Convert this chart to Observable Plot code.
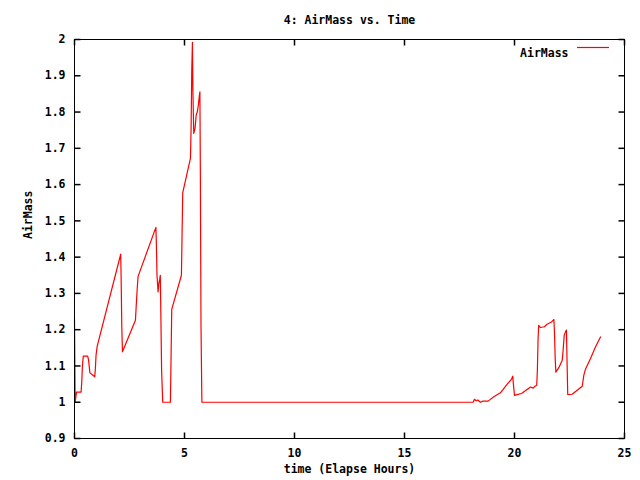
<!DOCTYPE html>
<html>
<head>
<meta charset="utf-8">
<script src="https://cdn.jsdelivr.net/npm/d3@7"></script>
<script src="https://cdn.jsdelivr.net/npm/@observablehq/plot@0.6"></script>
<style>
  html, body { margin: 0; padding: 0; background: #fff; }
</style>
</head>
<body>
<div id="chart"></div>
<script>
const titleText = "4: AirMass vs. Time";
const xLabel = "time (Elapse Hours)";
const yLabel = "AirMass";
const seriesName = "AirMass";
const xTicks = [0, 5, 10, 15, 20, 25];
const yTicks = [0.9, 1, 1.1, 1.2, 1.3, 1.4, 1.5, 1.6, 1.7, 1.8, 1.9, 2];

const time = [
  0.0, 0.02, 0.03, 0.09, 0.30, 0.33, 0.36, 0.40, 0.60, 0.64, 0.70, 0.92, 0.95, 0.98, 1.03,
  2.10, 2.12, 2.15, 2.18, 2.77, 2.80, 2.85, 2.89, 3.70, 3.72, 3.75, 3.80, 3.83, 3.87, 3.90,
  3.92, 3.96, 4.01, 4.36, 4.39, 4.42, 4.86, 4.89, 4.92, 5.27, 5.30, 5.33, 5.36, 5.38, 5.42,
  5.48, 5.53, 5.58, 5.63, 5.67, 5.70, 5.72, 5.75, 5.79,
  18.12, 18.18, 18.26, 18.33, 18.45, 18.56, 18.80, 19.06, 19.36, 19.67, 19.86, 19.92, 19.95,
  20.0, 20.12, 20.32, 20.73, 20.85, 20.93, 21.01, 21.04, 21.07, 21.10, 21.18, 21.36, 21.48,
  21.68, 21.79, 21.82, 21.85, 21.88, 22.02, 22.17, 22.21, 22.26, 22.32, 22.36, 22.39, 22.42,
  22.62, 22.85, 23.08, 23.15, 23.22, 23.45, 23.68, 23.91
];
const airmass = [
  1.229, 1.08, 1.0, 1.028, 1.028, 1.056, 1.10, 1.127, 1.127, 1.116, 1.081, 1.07, 1.094, 1.13, 1.154,
  1.408, 1.342, 1.205, 1.139, 1.226, 1.26, 1.313, 1.347, 1.482, 1.44, 1.35, 1.304, 1.325, 1.338, 1.35,
  1.263, 1.086, 1.0, 1.0, 1.127, 1.256, 1.35, 1.465, 1.578, 1.672, 1.755, 1.913, 1.992, 1.865, 1.741,
  1.755, 1.791, 1.80, 1.819, 1.842, 1.856, 1.64, 1.212, 1.0,
  1.0, 1.008, 1.004, 1.006, 1.0, 1.003, 1.003, 1.015, 1.026, 1.05, 1.063, 1.072, 1.05,
  1.019, 1.021, 1.024, 1.042, 1.039, 1.044, 1.047, 1.088, 1.171, 1.212, 1.206, 1.208, 1.215,
  1.221, 1.228, 1.189, 1.12, 1.083, 1.096, 1.116, 1.143, 1.185, 1.194, 1.199, 1.108, 1.021,
  1.022, 1.033, 1.044, 1.074, 1.09, 1.12, 1.152, 1.18
];

const data = time.map((t, i) => ({t, a: airmass[i]}));

const W = 640, H = 480, mL = 74, mR = 16, mT = 39, mB = 42;
const xDomain = [0, 25], yDomain = [0.9, 2];
const tickLen = 6;
const dxTick = tickLen / (W - mL - mR) * (xDomain[1] - xDomain[0]);
const dyTick = tickLen / (H - mT - mB) * (yDomain[1] - yDomain[0]);

// tick rows built from the tick arrays
const xTickRows = xTicks.flatMap(x => [
  {x, y1: yDomain[0], y2: yDomain[0] + dyTick},
  {x, y1: yDomain[1], y2: yDomain[1] - dyTick}
]);
const yTickRows = yTicks.flatMap(y => [
  {y, x1: xDomain[0], x2: xDomain[0] + dxTick},
  {y, x1: xDomain[1], x2: xDomain[1] - dxTick}
]);

const chart = Plot.plot({
  width: W,
  height: H,
  marginLeft: mL,
  marginRight: mR,
  marginTop: mT,
  marginBottom: mB,
  style: {fontFamily: "'DejaVu Sans Mono', monospace", fontSize: "11.5px", fontWeight: "bold", color: "black", background: "white"},
  x: {domain: xDomain},
  y: {domain: yDomain},
  marks: [
    Plot.line(data, {x: "t", y: "a", stroke: "#ff0000", strokeWidth: 1.2}),
    Plot.link(xTickRows, {x1: "x", x2: "x", y1: "y1", y2: "y2", stroke: "black", strokeWidth: 1.5}),
    Plot.link(yTickRows, {y1: "y", y2: "y", x1: "x1", x2: "x2", stroke: "black", strokeWidth: 1.5}),
    Plot.frame({stroke: "black", strokeWidth: 1}),
    Plot.axisX({anchor: "bottom", ticks: xTicks, tickSize: 0, tickPadding: 10, label: null, tickFormat: d => String(d)}),
    Plot.axisY({anchor: "left", ticks: yTicks, tickSize: 0, tickPadding: 9, label: null, tickFormat: d => String(d)}),
    Plot.text([titleText], {frameAnchor: "top", dy: -24, text: d => d, fill: "black"}),
    Plot.text([xLabel], {frameAnchor: "bottom", dy: 34, text: d => d, fill: "black"}),
    Plot.text([yLabel], {frameAnchor: "left", dx: -46, rotate: -90, text: d => d, fill: "black"}),
    Plot.text([seriesName], {frameAnchor: "top-right", dx: -56, dy: 9, textAnchor: "end", text: d => d, fill: "black"})
  ]
});

// legend sample line
d3.select(chart).append("line")
  .attr("x1", 577).attr("x2", 609).attr("y1", 47.5).attr("y2", 47.5)
  .attr("stroke", "#ff0000").attr("stroke-width", 1.2);

document.getElementById("chart").appendChild(chart);
</script>
</body>
</html>
